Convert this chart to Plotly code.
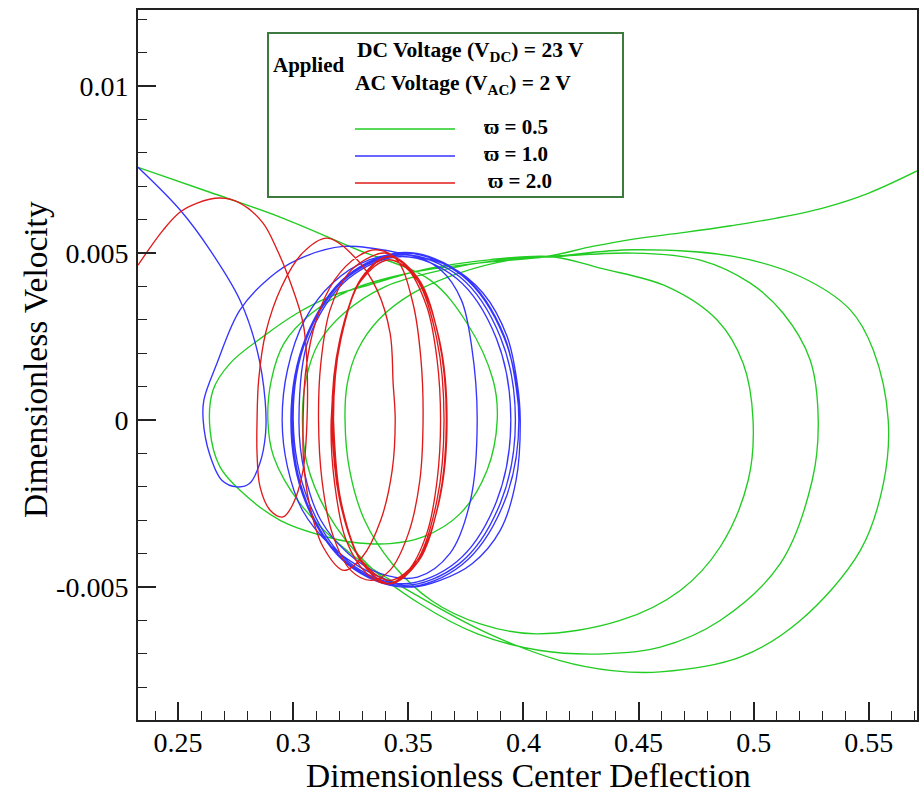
import plotly.graph_objects as go

# ---------------- data ----------------
# omega = 0.5 (green)
green_x = [0.2326, 0.2635, 0.2943, 0.3270, 0.3595, 0.3755, 0.3868, 0.3886, 0.3842, 0.3725,
           0.3564, 0.3420, 0.3250, 0.3147, 0.2943, 0.2769, 0.2682, 0.2639, 0.2652, 0.2726,
           0.2869, 0.3017, 0.3160, 0.3304, 0.3451, 0.3595, 0.3850, 0.4120,
           0.4333, 0.4624, 0.4841, 0.4954, 0.4997, 0.4976, 0.4854, 0.4681, 0.4420, 0.4055,
           0.3812, 0.3600, 0.3430, 0.3310, 0.3245, 0.3225, 0.3235, 0.3280, 0.3370, 0.3520,
           0.3720, 0.3950, 0.4150,
           0.4477, 0.4768, 0.4985, 0.5128, 0.5245, 0.5280, 0.5254, 0.5115, 0.4854, 0.4594,
           0.4350, 0.4073, 0.3800, 0.3550, 0.3320, 0.3150, 0.3060, 0.3040, 0.3055, 0.3110,
           0.3220, 0.3400, 0.3650, 0.3900, 0.4120,
           0.4477, 0.4911, 0.5202, 0.5419, 0.5519, 0.5584, 0.5563, 0.5463, 0.5202, 0.4941,
           0.4594, 0.4385, 0.4159, 0.3850, 0.3550, 0.3250, 0.3030, 0.2915, 0.2890, 0.2905,
           0.2960, 0.3080, 0.3250, 0.3500, 0.3800, 0.4100,
           0.4300, 0.4477, 0.4700, 0.4900, 0.5100, 0.5300, 0.5500, 0.5709]
green_v = [0.00757, 0.00683, 0.00608, 0.00513, 0.00419, 0.00290, 0.00120, 0.00000, -0.00150, -0.00280,
           -0.00350, -0.00370, -0.00365, -0.00350, -0.00300, -0.00210, -0.00140, -0.00030, 0.00090, 0.00170,
           0.00250, 0.00320, 0.00370, 0.00400, 0.00430, 0.00455, 0.00480, 0.00490,
           0.00455, 0.00400, 0.00300, 0.00170, 0.00000, -0.00180, -0.00380, -0.00510, -0.00600, -0.00640,
           -0.00610, -0.00540, -0.00430, -0.00300, -0.00150, 0.00000, 0.00110, 0.00210, 0.00300, 0.00380,
           0.00440, 0.00480, 0.00490,
           0.00500, 0.00479, 0.00410, 0.00320, 0.00180, 0.00000, -0.00180, -0.00430, -0.00600, -0.00680,
           -0.00700, -0.00690, -0.00640, -0.00550, -0.00430, -0.00280, -0.00130, 0.00000, 0.00120, 0.00230,
           0.00320, 0.00400, 0.00450, 0.00480, 0.00490,
           0.00510, 0.00490, 0.00430, 0.00330, 0.00210, 0.00000, -0.00190, -0.00390, -0.00600, -0.00710,
           -0.00754, -0.00750, -0.00720, -0.00640, -0.00530, -0.00400, -0.00250, -0.00110, 0.00000, 0.00120,
           0.00230, 0.00320, 0.00390, 0.00440, 0.00470, 0.00490,
           0.00520, 0.00542, 0.00562, 0.00582, 0.00605, 0.00635, 0.00680, 0.00746]

# omega = 1.0 (blue)
blue_x = [0.2326, 0.2509, 0.2639, 0.2769, 0.2843, 0.2878, 0.2880, 0.2855, 0.2810, 0.2756,
          0.2690, 0.2636, 0.2609, 0.2612, 0.2669, 0.2769, 0.2900, 0.3017, 0.3217, 0.3464,
          0.3682, 0.3825, 0.3929, 0.3973, 0.3986, 0.3968, 0.3899, 0.3777, 0.3638, 0.3517,
          0.3412, 0.3290, 0.3169, 0.3040, 0.2975, 0.2952,
          0.2975, 0.3050, 0.3170, 0.3330, 0.3500, 0.3640, 0.3730, 0.3775, 0.3799, 0.3770,
          0.3680, 0.3540, 0.3380, 0.3240, 0.3120, 0.3050, 0.3025,
          0.3068, 0.3240, 0.3475, 0.3710, 0.3882, 0.3945, 0.3882, 0.3710, 0.3475, 0.3240, 0.3068, 0.3000,
          0.3060, 0.3238, 0.3480, 0.3723, 0.3900, 0.3965, 0.3900, 0.3723, 0.3480, 0.3238, 0.3060, 0.2995,
          0.3056, 0.3238, 0.3485, 0.3733, 0.3914, 0.3980, 0.3914, 0.3733, 0.3485, 0.3238, 0.3056, 0.2990,
          0.3057, 0.3239, 0.3487, 0.3736, 0.3917, 0.3984]
blue_v = [0.00757, 0.00629, 0.00509, 0.00359, 0.00210, 0.00060, -0.00040, -0.00130, -0.00190, -0.00200,
          -0.00180, -0.00100, 0.00000, 0.00060, 0.00170, 0.00330, 0.00428, 0.00480, 0.00520, 0.00500,
          0.00460, 0.00380, 0.00250, 0.00110, 0.00000, -0.00180, -0.00330, -0.00430, -0.00480, -0.00500,
          -0.00480, -0.00440, -0.00380, -0.00270, -0.00140, 0.00000,
          0.00150, 0.00300, 0.00410, 0.00480, 0.00495, 0.00450, 0.00360, 0.00220, 0.00000, -0.00240,
          -0.00400, -0.00470, -0.00460, -0.00400, -0.00300, -0.00160, 0.00000,
          0.00245, 0.00424, 0.00490, 0.00424, 0.00245, 0.00000, -0.00245, -0.00424, -0.00490, -0.00424, -0.00245, 0.00000,
          0.00248, 0.00429, 0.00495, 0.00429, 0.00248, 0.00000, -0.00248, -0.00429, -0.00495, -0.00429, -0.00248, 0.00000,
          0.00250, 0.00433, 0.00500, 0.00433, 0.00250, 0.00000, -0.00250, -0.00433, -0.00500, -0.00433, -0.00250, 0.00000,
          0.00251, 0.00435, 0.00502, 0.00435, 0.00251, 0.00000]

# omega = 2.0 (red)
red_x = [0.2326, 0.2435, 0.2509, 0.2583, 0.2682, 0.2769, 0.2869, 0.2930, 0.2973, 0.3043,
         0.3060, 0.3060, 0.3043, 0.3000, 0.2956, 0.2900, 0.2856, 0.2843, 0.2843,
         0.2850, 0.2880, 0.2950, 0.3040, 0.3147, 0.3278, 0.3364, 0.3421, 0.3434, 0.3443,
         0.3430, 0.3380, 0.3300, 0.3220, 0.3130, 0.3070, 0.3045, 0.3043,
         0.3055, 0.3100, 0.3180, 0.3280, 0.3360, 0.3450, 0.3520, 0.3555, 0.3564, 0.3550,
         0.3500, 0.3420, 0.3340, 0.3250, 0.3170, 0.3125, 0.3110,
         0.3120, 0.3160, 0.3240, 0.3340, 0.3400, 0.3490, 0.3580, 0.3625, 0.3640, 0.3625,
         0.3580, 0.3500, 0.3410, 0.3320, 0.3230, 0.3180, 0.3165,
         0.3208, 0.3298, 0.3420, 0.3543, 0.3632, 0.3665, 0.3632, 0.3543, 0.3420, 0.3298, 0.3208, 0.3175,
         0.3207, 0.3295, 0.3415, 0.3535, 0.3623, 0.3655, 0.3623, 0.3535, 0.3415, 0.3295, 0.3207, 0.3168,
         0.3202, 0.3293, 0.3418, 0.3543, 0.3635, 0.3668, 0.3635, 0.3543, 0.3418, 0.3293, 0.3202, 0.3172,
         0.3208, 0.3298, 0.3420, 0.3543, 0.3632, 0.3665, 0.3632, 0.3543, 0.3420, 0.3298, 0.3208, 0.3175]
red_v = [0.00464, 0.00569, 0.00623, 0.00650, 0.00665, 0.00650, 0.00590, 0.00510, 0.00440, 0.00290,
         0.00160, 0.00000, -0.00150, -0.00250, -0.00290, -0.00270, -0.00200, -0.00100, 0.00000,
         0.00120, 0.00260, 0.00400, 0.00500, 0.00545, 0.00480, 0.00390, 0.00260, 0.00110, 0.00000,
         -0.00150, -0.00300, -0.00410, -0.00450, -0.00380, -0.00250, -0.00120, 0.00000,
         0.00150, 0.00300, 0.00420, 0.00490, 0.00510, 0.00480, 0.00350, 0.00180, 0.00000, -0.00180,
         -0.00340, -0.00450, -0.00480, -0.00450, -0.00340, -0.00180, 0.00000,
         0.00170, 0.00330, 0.00440, 0.00490, 0.00500, 0.00460, 0.00340, 0.00180, 0.00000, -0.00180,
         -0.00340, -0.00450, -0.00490, -0.00460, -0.00360, -0.00190, 0.00000,
         0.00245, 0.00424, 0.00490, 0.00424, 0.00245, 0.00000, -0.00245, -0.00424, -0.00490, -0.00424, -0.00245, 0.00000,
         0.00245, 0.00424, 0.00490, 0.00424, 0.00245, 0.00000, -0.00245, -0.00424, -0.00490, -0.00424, -0.00245, 0.00000,
         0.00240, 0.00416, 0.00480, 0.00416, 0.00240, 0.00000, -0.00240, -0.00416, -0.00480, -0.00416, -0.00240, 0.00000,
         0.00245, 0.00424, 0.00490, 0.00424, 0.00245, 0.00000, -0.00245, -0.00424, -0.00490, -0.00424, -0.00245, 0.00000]

series_names = ["ϖ = 0.5", "ϖ = 1.0", "ϖ = 2.0"]
series_colors = ["#22cc22", "#3535ff", "#e01a1a"]

x_tickvals = [0.25, 0.3, 0.35, 0.4, 0.45, 0.5, 0.55]
x_ticktext = ["0.25", "0.3", "0.35", "0.4", "0.45", "0.5", "0.55"]
y_tickvals = [-0.005, 0, 0.005, 0.01]
y_ticktext = ["-0.005", "0", "0.005", "0.01"]

x_title = "Dimensionless Center Deflection"
y_title = "Dimensionless Velocity"
legend_head = ["<b>DC Voltage (V<sub>DC</sub>) = 23 V</b>", "<b>AC Voltage (V<sub>AC</sub>) = 2 V</b>"]

# ---------------- figure ----------------
SERIF = "Liberation Serif, Times New Roman, DejaVu Serif, serif"
fig = go.Figure()
for xs, vs, col, nm in [(green_x, green_v, series_colors[0], series_names[0]),
                        (blue_x, blue_v, series_colors[1], series_names[1]),
                        (red_x, red_v, series_colors[2], series_names[2])]:
    fig.add_trace(go.Scatter(x=xs, y=vs, mode="lines", name=nm, showlegend=False,
                             line=dict(color=col, width=1.35, shape="spline", smoothing=1.0),
                             hoverinfo="skip"))

axis_common = dict(showline=True, linecolor="#222222", linewidth=2, mirror=True,
                   ticks="inside", ticklen=18, tickwidth=1.5, tickcolor="#222222",
                   showgrid=False, zeroline=False, tickmode="array", automargin=False,
                   tickfont=dict(family=SERIF, size=28, color="black"))

fig.update_layout(
    width=922, height=796,
    margin=dict(l=138, r=5, t=10, b=76, autoexpand=False),
    paper_bgcolor="white", plot_bgcolor="white",
    xaxis=dict(range=[0.2326, 0.5709], tickvals=x_tickvals, ticktext=x_ticktext,
               minor=dict(ticks="inside", ticklen=9, tickwidth=1.2, tickcolor="#222222",
                          dtick=0.01, tick0=0, showgrid=False),
               ticklabelstandoff=-4, **axis_common),
    yaxis=dict(range=[-0.00898, 0.01228], tickvals=y_tickvals, ticktext=y_ticktext,
               minor=dict(ticks="inside", ticklen=9, tickwidth=1.2, tickcolor="#222222",
                          dtick=0.001, tick0=0, showgrid=False),
               ticklabelstandoff=2, **axis_common),
)

def px(xp):
    return (xp - 138) / 779.0

def py(yp):
    return (720 - yp) / 710.0

# axis titles
fig.add_annotation(xref="paper", yref="paper", x=px(528), y=py(776), xanchor="center", yanchor="middle",
                   text=x_title, showarrow=False, font=dict(family=SERIF, size=33.5, color="black"))
fig.add_annotation(xref="paper", yref="paper", x=px(35), y=py(360), xanchor="center", yanchor="middle",
                   text=y_title, textangle=-90, showarrow=False, font=dict(family=SERIF, size=33.5, color="black"))

# legend box
fig.add_shape(type="rect", xref="paper", yref="paper", x0=px(268), x1=px(623), y0=py(197), y1=py(33),
              line=dict(color="#3d7a3d", width=2), fillcolor="white", layer="above")
fig.add_annotation(xref="paper", yref="paper", x=px(271), y=py(65), xanchor="left", yanchor="middle",
                   text="<b>Applied</b>", showarrow=False, font=dict(family=SERIF, size=21, color="black"))
fig.add_annotation(xref="paper", yref="paper", x=px(355), y=py(51), xanchor="left", yanchor="middle",
                   text=legend_head[0], showarrow=False, font=dict(family=SERIF, size=21.5, color="black"))
fig.add_annotation(xref="paper", yref="paper", x=px(353), y=py(85), xanchor="left", yanchor="middle",
                   text=legend_head[1], showarrow=False, font=dict(family=SERIF, size=21.5, color="black"))
legend_y = [129, 156, 183]
legend_tx = [482, 482, 486]
for i in range(3):
    fig.add_shape(type="line", xref="paper", yref="paper", x0=px(355), x1=px(455),
                  y0=py(legend_y[i]), y1=py(legend_y[i]),
                  line=dict(color=series_colors[i], width=1.3), layer="above")
    fig.add_annotation(xref="paper", yref="paper", x=px(legend_tx[i]), y=py(legend_y[i] - 2),
                       xanchor="left", yanchor="middle", text="<b>" + series_names[i] + "</b>",
                       showarrow=False, font=dict(family=SERIF, size=21, color="black"))

fig.write_html("out.html", config={"displayModeBar": False},
               post_script="document.body.style.margin='0px';document.body.style.padding='0px';"
                           "document.body.style.overflow='hidden';")
